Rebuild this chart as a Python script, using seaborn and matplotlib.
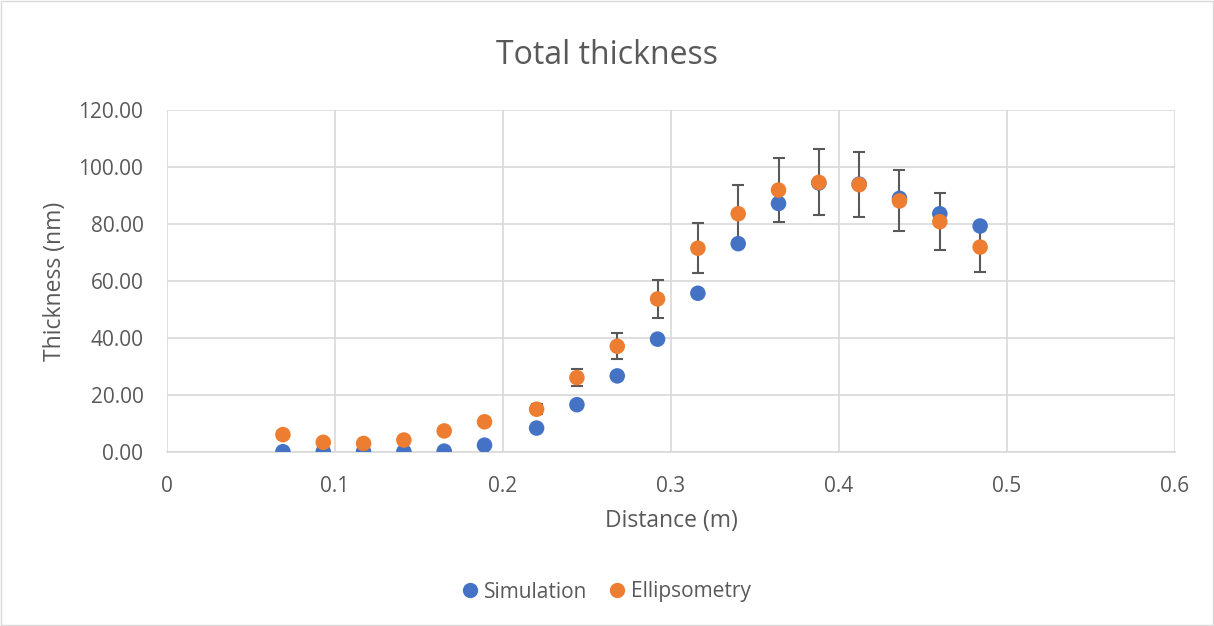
import matplotlib
matplotlib.use("Agg")
import matplotlib.pyplot as plt
import seaborn as sns
import pandas as pd
from matplotlib.lines import Line2D
from matplotlib.patches import Rectangle

distance = [0.069, 0.093, 0.117, 0.141, 0.165, 0.189, 0.220, 0.244, 0.268,
            0.292, 0.316, 0.340, 0.364, 0.388, 0.412, 0.436, 0.460, 0.484]
simulation = [0.1, 0.1, 0.1, 0.1, 0.3, 2.4, 8.4, 16.6, 26.7,
              39.6, 55.7, 73.1, 87.2, 94.4, 94.0, 89.0, 83.6, 79.3]
ellipsometry = [6.1, 3.4, 3.0, 4.2, 7.4, 10.6, 15.0, 26.1, 37.1,
                53.7, 71.5, 83.6, 91.9, 94.6, 93.8, 88.1, 80.8, 71.9]
ellips_err = [0.7, 0.4, 0.4, 0.5, 0.9, 1.3, 1.8, 3.1, 4.5,
              6.7, 8.8, 10.0, 11.2, 11.6, 11.5, 10.7, 10.0, 8.7]
series_names = ["Simulation", "Ellipsometry"]
colors = ["#4472C4", "#ED7D31"]
yticks = [0, 20, 40, 60, 80, 100, 120]
xticks = [0, 0.1, 0.2, 0.3, 0.4, 0.5, 0.6]

df = pd.DataFrame({
    "Distance": distance + distance,
    "Thickness": simulation + ellipsometry,
    "Series": [series_names[0]] * len(distance) + [series_names[1]] * len(distance),
})

sns.set_theme(style="white")
plt.rcParams["font.family"] = ["Open Sans", "DejaVu Sans"]
text_col = "#595959"
grid_col = "#D9D9D9"

fig = plt.figure(figsize=(12.14, 6.26), dpi=100)
fig.patch.set_facecolor("white")
fig.add_artist(Rectangle((0.0008, 0.0016), 0.9984, 0.9968, transform=fig.transFigure,
                         fill=False, edgecolor="#D9D9D9", linewidth=1))
ax = fig.add_axes([167 / 1214, 1 - 452 / 626, (1175 - 167) / 1214, (452 - 110) / 626])

ax.errorbar(distance, ellipsometry, yerr=ellips_err, fmt="none", ecolor="#595959",
            elinewidth=1.5, capsize=4.5, capthick=1.5, zorder=2)
sns.scatterplot(data=df, x="Distance", y="Thickness", hue="Series",
                palette=colors, s=125, linewidth=0, ax=ax, legend=False, zorder=3)

ax.set_xlim(0, 0.6)
ax.set_ylim(0, 120)
ax.set_xticks(xticks)
ax.set_xticklabels([f"{t:g}" for t in xticks])
ax.set_yticks(yticks)
ax.set_yticklabels([f"{t:.2f}" for t in yticks])
ax.grid(True, color=grid_col, linewidth=1.2)
ax.set_axisbelow(True)
for s in ["top", "right", "left"]:
    ax.spines[s].set_visible(False)
ax.spines["bottom"].set_color(grid_col)
ax.spines["bottom"].set_linewidth(1.2)
ax.tick_params(axis="x", length=0, labelsize=15, colors=text_col, pad=17)
ax.tick_params(axis="y", length=0, labelsize=15, colors=text_col, pad=17)
ax.set_xlabel("Distance (m)", fontsize=16.5, color=text_col)
ax.set_ylabel("Thickness (nm)", fontsize=16.5, color=text_col)
ax.xaxis.label.set_va("center")
ax.yaxis.label.set_va("center")
ax.xaxis.set_label_coords(0.5, (452 - 521) / 342)
ax.yaxis.set_label_coords((55 - 167) / 1008, 0.5)

fig.text(0.5, 1 - 55 / 626, "Total thickness", ha="center", va="center",
         fontsize=23, color=text_col)

handles = [Line2D([0], [0], marker="o", linestyle="none", markersize=11,
                  markerfacecolor=c, markeredgewidth=0) for c in colors]
fig.legend(handles, series_names, loc="center", bbox_to_anchor=(0.5, 1 - 592 / 626),
           ncol=2, frameon=False, fontsize=15, handlelength=0.7, handletextpad=0.3,
           columnspacing=1.1, labelcolor=text_col)

fig.savefig("out.png", dpi=100)
